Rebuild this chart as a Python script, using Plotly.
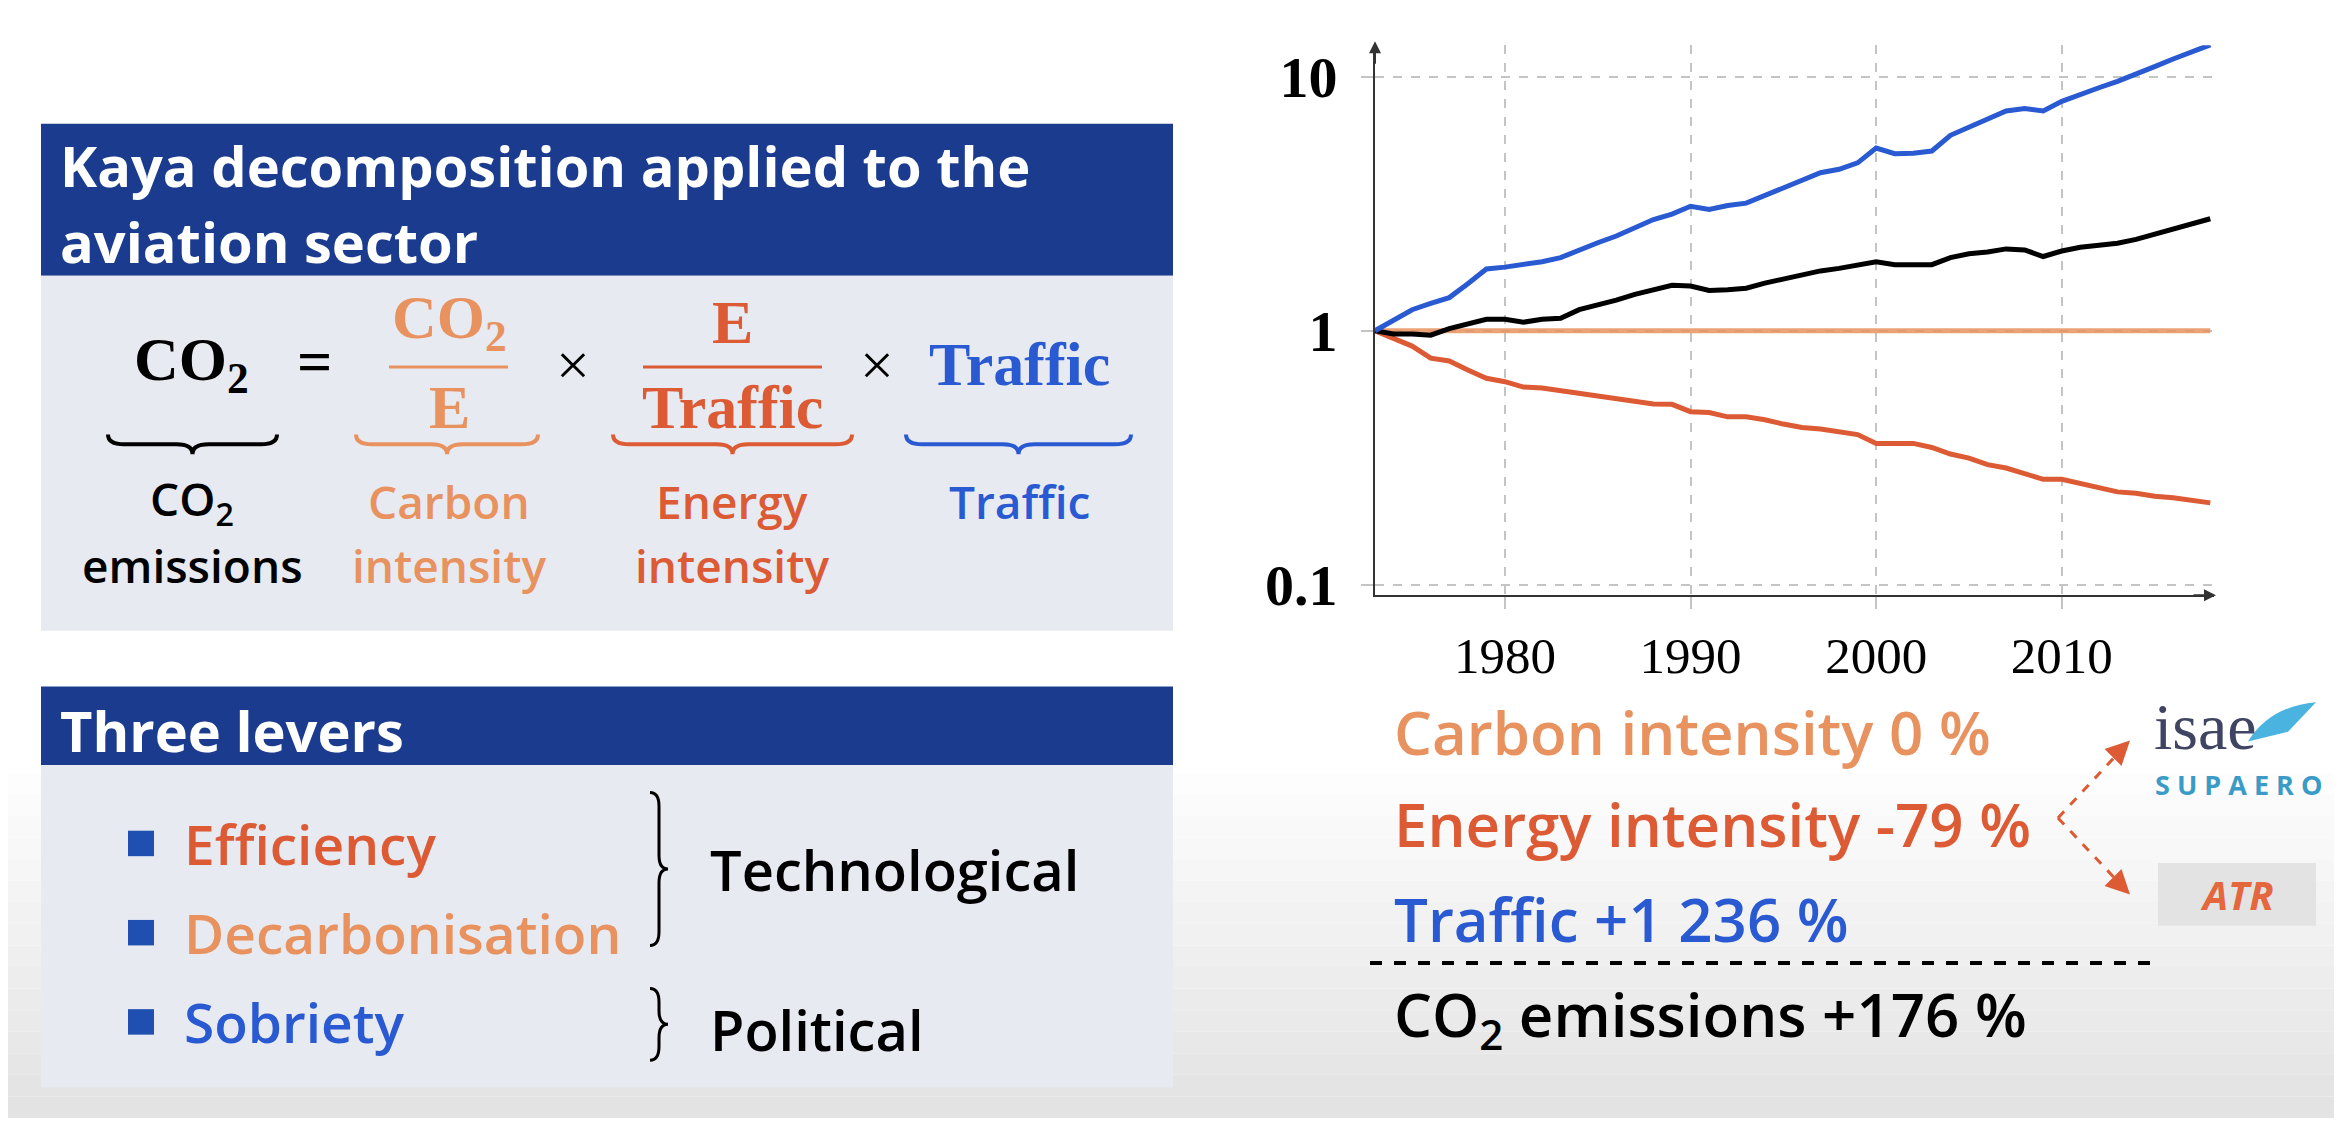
import plotly.graph_objects as go

# -- Data ---------------------------------------------------------------------
years = list(range(1973, 2019))

traffic = [1.00, 1.10, 1.21, 1.28, 1.35, 1.53, 1.75, 1.78, 1.82, 1.87,
           1.94, 2.08, 2.22, 2.36, 2.55, 2.74, 2.88, 3.09, 3.00, 3.11,
           3.18, 3.40, 3.66, 3.92, 4.19, 4.32, 4.58, 5.24, 4.98, 5.00,
           5.10, 5.88, 6.35, 6.78, 7.33, 7.50, 7.33, 8.00, 8.54, 9.05,
           9.59, 10.2, 10.96, 11.75, 12.6, 13.36]

co2 = [1.00, 0.97, 0.97, 0.96, 1.02, 1.07, 1.11, 1.11, 1.08, 1.11,
       1.12, 1.21, 1.26, 1.32, 1.39, 1.45, 1.51, 1.50, 1.44, 1.45,
       1.47, 1.54, 1.60, 1.67, 1.72, 1.76, 1.82, 1.87, 1.82, 1.83,
       1.82, 1.94, 2.01, 2.04, 2.10, 2.08, 1.96, 2.06, 2.13, 2.17,
       2.21, 2.29, 2.40, 2.52, 2.65, 2.76]

energy_intensity = [1.00, 0.93, 0.87, 0.78, 0.76, 0.70, 0.65, 0.63, 0.60, 0.595,
                    0.58, 0.57, 0.555, 0.54, 0.526, 0.515, 0.513, 0.48, 0.476, 0.458,
                    0.458, 0.446, 0.429, 0.416, 0.41, 0.40, 0.39, 0.36, 0.36, 0.36,
                    0.347, 0.327, 0.315, 0.297, 0.288, 0.275, 0.26, 0.26, 0.25, 0.24,
                    0.232, 0.229, 0.223, 0.22, 0.214, 0.21]

carbon_intensity = [1.0, 1.0, 1.0, 1.0, 1.0, 1.0, 1.0, 1.0, 1.0, 1.0,
                    1.0, 1.0, 1.0, 1.0, 1.0, 1.0, 1.0, 1.0, 1.0, 1.0,
                    1.0, 1.0, 1.0, 1.0, 1.0, 1.0, 1.0, 1.0, 1.0, 1.0,
                    1.0, 1.0, 1.0, 1.0, 1.0, 1.0, 1.0, 1.0, 1.0, 1.0,
                    1.0, 1.0, 1.0, 1.0, 1.0, 1.0]

year_ticks = [1980, 1990, 2000, 2010]
y_ticks = [0.1, 1, 10]
y_tick_labels = ["<b>0.1</b>", "<b>1</b>", "<b>10</b>"]

summary_lines = ["Carbon intensity 0 %", "Energy intensity -79 %",
                 "Traffic +1 236 %", "CO<sub>2</sub> emissions +176 %"]

# -- Style ----------------------------------------------------------------------
W, H = 2342, 1132
NAVY = "#1b3c8e"
BODY = "#e8eaf2"
C_CARBON = "#e8925f"
C_ENERGY = "#dc5b34"
C_TRAFFIC = "#2a5ad2"
SANS = "Open Sans"
SERIF = "Liberation Serif"


def px(x):
    return x / W


def py(y):
    return 1 - y / H


fig = go.Figure()

fig.add_trace(go.Scatter(x=years, y=carbon_intensity, mode="lines",
                         line=dict(color=C_CARBON, width=5), opacity=0.85,
                         cliponaxis=False, showlegend=False))
fig.add_trace(go.Scatter(x=years, y=energy_intensity, mode="lines",
                         line=dict(color=C_ENERGY, width=5),
                         cliponaxis=False, showlegend=False))
fig.add_trace(go.Scatter(x=years, y=co2, mode="lines",
                         line=dict(color="black", width=5),
                         cliponaxis=False, showlegend=False))
fig.add_trace(go.Scatter(x=years, y=traffic, mode="lines",
                         line=dict(color=C_TRAFFIC, width=5),
                         cliponaxis=False, showlegend=False))

shapes = []
annotations = []

# -- background (video fade at bottom) ----------------------------------------
n_bands = 16
for i in range(n_bands):
    y0 = 780 + i * (H - 780) / n_bands
    y1 = 780 + (i + 1) * (H - 780) / n_bands
    g = int(255 - (i + 1) * 28 / n_bands)
    shapes.append(dict(type="rect", xref="paper", yref="paper",
                       x0=0, x1=1, y0=py(y1), y1=py(y0),
                       fillcolor=f"rgb({g},{g},{g})", line=dict(width=0),
                       layer="below"))

# -- boxes ----------------------------------------------------------------------
for (top, mid, bot) in [(118, 273, 635), (692, 772, 1101)]:
    shapes.append(dict(type="rect", xref="paper", yref="paper",
                       x0=px(33), x1=px(1165), y0=py(mid), y1=py(top),
                       fillcolor=NAVY, line=dict(width=0), layer="below"))
    shapes.append(dict(type="rect", xref="paper", yref="paper",
                       x0=px(33), x1=px(1165), y0=py(bot), y1=py(mid),
                       fillcolor=BODY, line=dict(width=0), layer="below"))


def text(x, y, s, size, color="black", family=SANS, weight=400,
         xanchor="center", style="normal"):
    annotations.append(dict(x=px(x), y=py(y), xref="paper", yref="paper",
                            text=s, showarrow=False, xanchor=xanchor,
                            yanchor="middle",
                            font=dict(size=size, color=color, family=family,
                                      weight=weight, style=style)))


text(50, 160, "Kaya decomposition applied to the", 56, "white",
     weight=700, xanchor="left")
text(50, 238, "aviation sector", 56, "white", weight=700, xanchor="left")
text(50, 736, "Three levers", 56, "white", weight=700, xanchor="left")

# -- Kaya formula ---------------------------------------------------------------
text(183, 363, "<b>CO<sub>2</sub></b>", 62, family=SERIF)
text(306, 360, "<b>=</b>", 62, family=SERIF)
text(441, 320, "<b>CO<sub>2</sub></b>", 62, C_CARBON, family=SERIF)
text(441, 407, "<b>E</b>", 62, C_CARBON, family=SERIF)
text(565, 364, "×", 60, family=SERIF)
text(724, 320, "<b>E</b>", 62, C_ENERGY, family=SERIF)
text(724, 407, "<b>Traffic</b>", 62, C_ENERGY, family=SERIF)
text(869, 364, "×", 60, family=SERIF)
text(1011, 363, "<b>Traffic</b>", 62, C_TRAFFIC, family=SERIF)

shapes.append(dict(type="line", xref="paper", yref="paper",
                   x0=px(381), x1=px(500), y0=py(366), y1=py(366),
                   line=dict(color=C_CARBON, width=3)))
shapes.append(dict(type="line", xref="paper", yref="paper",
                   x0=px(635), x1=px(814), y0=py(366), y1=py(366),
                   line=dict(color=C_ENERGY, width=3)))


def underbrace(x0, x1, y, color, h=20):
    r = 16
    xm = (x0 + x1) / 2
    pts = (f"M {px(x0)},{py(y - h/2)} Q {px(x0)},{py(y)} {px(x0 + r)},{py(y)} "
           f"L {px(xm - r)},{py(y)} Q {px(xm)},{py(y)} {px(xm)},{py(y + h/2)} "
           f"Q {px(xm)},{py(y)} {px(xm + r)},{py(y)} "
           f"L {px(x1 - r)},{py(y)} Q {px(x1)},{py(y)} {px(x1)},{py(y - h/2)}")
    shapes.append(dict(type="path", xref="paper", yref="paper", path=pts,
                       line=dict(color=color, width=4)))


def rightbrace(x, y0, y1, color="black", w=18):
    r = 14
    ym = (y0 + y1) / 2
    pts = (f"M {px(x - w/2)},{py(y0)} Q {px(x)},{py(y0)} {px(x)},{py(y0 + r)} "
           f"L {px(x)},{py(ym - r)} Q {px(x)},{py(ym)} {px(x + w/2)},{py(ym)} "
           f"Q {px(x)},{py(ym)} {px(x)},{py(ym + r)} "
           f"L {px(x)},{py(y1 - r)} Q {px(x)},{py(y1)} {px(x - w/2)},{py(y1)}")
    shapes.append(dict(type="path", xref="paper", yref="paper", path=pts,
                       line=dict(color=color, width=3)))


underbrace(100, 269, 445, "black")
underbrace(348, 530, 445, C_CARBON)
underbrace(605, 844, 445, C_ENERGY)
underbrace(898, 1123, 445, C_TRAFFIC)

text(184, 503, "CO<sub>2</sub>", 46, weight=600)
text(184, 568, "emissions", 46, weight=600)
text(441, 503, "Carbon", 46, C_CARBON, weight=600)
text(441, 568, "intensity", 46, C_CARBON, weight=600)
text(724, 503, "Energy", 46, C_ENERGY, weight=600)
text(724, 568, "intensity", 46, C_ENERGY, weight=600)
text(1011, 503, "Traffic", 46, C_TRAFFIC, weight=600)

# -- levers -------------------------------------------------------------------
for yb, label, col in [(852, "Efficiency", C_ENERGY),
                       (943, "Decarbonisation", C_CARBON),
                       (1034, "Sobriety", C_TRAFFIC)]:
    shapes.append(dict(type="rect", xref="paper", yref="paper",
                       x0=px(120), x1=px(146), y0=py(yb + 13), y1=py(yb - 13),
                       fillcolor="#1f4fb0", line=dict(width=0)))
    text(174, yb, label, 55, col, weight=600, xanchor="left")

rightbrace(651, 800, 956)
rightbrace(651, 1000, 1073)
text(700, 878, "Technological", 56, weight=600, xanchor="left")
text(700, 1041, "Political", 56, weight=600, xanchor="left")

# -- summary (bottom right) ---------------------------------------------------
for yb, s, col in zip([738, 832, 929, 1030], summary_lines,
                      [C_CARBON, C_ENERGY, C_TRAFFIC, "black"]):
    text(1384, yb, s, 60, col, weight=600, xanchor="left")
shapes.append(dict(type="line", xref="paper", yref="paper",
                   x0=px(1362), x1=px(2151), y0=py(974), y1=py(974),
                   line=dict(color="black", width=4, dash="dash")))

# dashed arrows towards the logos
for (xe, ye) in [(2122, 747), (2122, 904)]:
    shapes.append(dict(type="line", xref="paper", yref="paper",
                       x0=px(2050), y0=py(826), x1=px(xe), y1=py(ye),
                       line=dict(color=C_ENERGY, width=3, dash="dash")))
    annotations.append(dict(x=px(xe), y=py(ye), xref="paper", yref="paper",
                            ax=-8, ay=(-8 if ye > 826 else 8), text="",
                            showarrow=True, arrowhead=2, arrowsize=1.6,
                            arrowwidth=3, arrowcolor=C_ENERGY))

# logos (as text)
text(2197, 733, "isae", 66, "#3f4463", family="Liberation Sans Narrow")
text(2230, 792, "S U P A E R O", 27, "#3a9cc6", weight=700)
shapes.append(dict(type="path", xref="paper", yref="paper",
                   path=(f"M {px(2240)},{py(748)} Q {px(2262)},{py(712)} "
                         f"{px(2308)},{py(708)} L {px(2280)},{py(738)} Z"),
                   fillcolor="#4ab3df", line=dict(width=0)))
shapes.append(dict(type="rect", xref="paper", yref="paper",
                   x0=px(2150), x1=px(2308), y0=py(936), y1=py(872),
                   fillcolor="#e3e3e3", line=dict(width=0)))
text(2229, 904, "<b>ATR</b>", 40, "#e4673d", style="italic")

# axis arrowheads
annotations.append(dict(x=px(2208), y=py(599), xref="paper", yref="paper",
                        ax=-24, ay=0, text="", showarrow=True, arrowhead=2,
                        arrowsize=1.2, arrowwidth=2, arrowcolor="#333"))
annotations.append(dict(x=px(1367), y=py(34), xref="paper", yref="paper",
                        ax=0, ay=24, text="", showarrow=True, arrowhead=2,
                        arrowsize=1.2, arrowwidth=2, arrowcolor="#333"))

fig.update_layout(
    width=W, height=H,
    margin=dict(l=0, r=0, t=0, b=0),
    paper_bgcolor="white",
    plot_bgcolor="rgba(0,0,0,0)",
    shapes=shapes,
    annotations=annotations,
    showlegend=False,
    xaxis=dict(domain=[px(1367), px(2206)], range=[1973, 2018.2],
               showline=True, linecolor="#333", linewidth=2,
               showgrid=True, gridcolor="#c4c4c4", griddash="dash", gridwidth=2,
               tickvals=year_ticks, ticks="outside", ticklen=12,
               tickcolor="#c4c4c4", tickwidth=2, ticklabelstandoff=2,
               tickfont=dict(family=SERIF, size=51, color="black"),
               zeroline=False, fixedrange=True),
    yaxis=dict(domain=[py(599), py(38)], type="log", range=[-1.042, 1.124],
               showline=True, linecolor="#333", linewidth=2,
               showgrid=True, gridcolor="#c4c4c4", griddash="dash", gridwidth=2,
               tickvals=y_ticks, ticktext=y_tick_labels, ticks="outside",
               ticklen=12, tickcolor="#c4c4c4", tickwidth=2,
               ticklabelstandoff=12,
               tickfont=dict(family=SERIF, size=58, color="black"),
               zeroline=False, fixedrange=True),
)

fig.write_html("out.html")
